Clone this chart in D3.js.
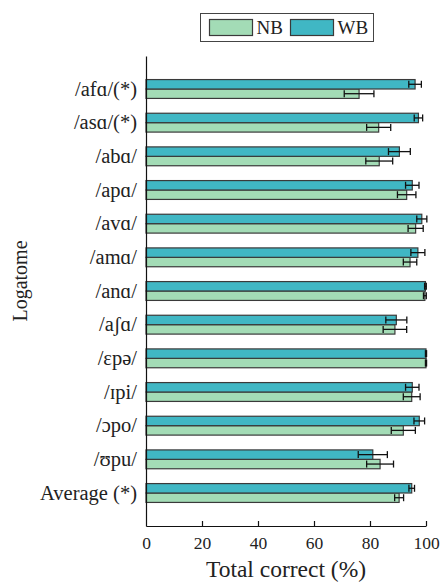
<!DOCTYPE html>
<html>
<head>
<meta charset="utf-8">
<script src="https://cdn.jsdelivr.net/npm/d3@7"></script>
<style>
  body { margin: 0; background: #fff; }
  svg text { font-family: "Liberation Serif", "Times New Roman", Times, "DejaVu Serif", serif !important; fill: #222; }
</style>
</head>
<body>
<script>
/* Logatome categories, top to bottom */
var categories = ["/afɑ/(*)", "/asɑ/(*)", "/abɑ/", "/apɑ/", "/avɑ/", "/amɑ/",
  "/anɑ/", "/aʃɑ/", "/ɛpə/", "/ɪpi/", "/ɔpo/", "/ʊpu/", "Average (*)"];

/* total correct (%) and error half-widths per series */
var nbValues = [76.1, 83.1, 83.3, 93.1, 96.3, 94.3, 99.6, 88.9, 100, 94.9, 91.9, 83.6, 90.4];
var nbErrors = [5.3, 4.3, 4.8, 3.3, 2.7, 2.4, 0.5, 4.2, 0.2, 3.0, 4.3, 4.8, 1.6];
var wbValues = [96.1, 97.3, 90.5, 95.1, 98.5, 97.1, 99.8, 89.4, 100, 95.1, 97.6, 81.0, 94.9];
var wbErrors = [2.25, 1.5, 3.9, 2.4, 1.8, 2.5, 0.3, 3.75, 0.2, 2.4, 1.9, 5.2, 1.0];

var xTicks = [0, 20, 40, 60, 80, 100];
var seriesNames = ["NB", "WB"];
var colours = { NB: "#a3dcb6", WB: "#40b7c4" };

var width = 443, height = 586;
var margin = { top: 56, right: 17, bottom: 60, left: 146 };

var svg = d3.select("body").append("svg")
    .attr("width", width)
    .attr("height", height);

var x = d3.scaleLinear()
    .domain([0, 100])
    .range([margin.left, 426]);

var y = d3.scaleBand()
    .domain(categories)
    .range([margin.top, height - margin.bottom])
    .paddingInner(0.44)
    .paddingOuter(0.7);

/* WB on top half of each group, NB on bottom half */
var sub = d3.scaleBand()
    .domain(["WB", "NB"])
    .range([0, y.bandwidth()]);

var rows = [];
categories.forEach(function(c, i) {
  rows.push({ cat: c, series: "NB", value: nbValues[i], err: nbErrors[i] });
  rows.push({ cat: c, series: "WB", value: wbValues[i], err: wbErrors[i] });
});

svg.selectAll(".bar")
    .data(rows)
  .enter().append("rect")
    .attr("class", "bar")
    .attr("x", x(0))
    .attr("y", function(d) { return y(d.cat) + sub(d.series); })
    .attr("width", function(d) { return x(d.value) - x(0); })
    .attr("height", sub.bandwidth())
    .attr("fill", function(d) { return colours[d.series]; })
    .attr("stroke", "#3a3a3a")
    .attr("stroke-width", 1.2);

/* error bars */
var cap = 3.5;
var eb = svg.selectAll(".err")
    .data(rows)
  .enter().append("g")
    .attr("class", "err")
    .attr("stroke", "#111")
    .attr("stroke-width", 1.3);

function cy(d) { return y(d.cat) + sub(d.series) + sub.bandwidth() / 2; }
function lo(d) { return x(d.value - d.err); }
function hi(d) { return x(Math.min(d.value + d.err, 100.3)); }

eb.append("line")
    .attr("x1", lo).attr("x2", hi)
    .attr("y1", cy).attr("y2", cy);
eb.append("line")
    .attr("x1", lo).attr("x2", lo)
    .attr("y1", function(d) { return cy(d) - cap; })
    .attr("y2", function(d) { return cy(d) + cap; });
eb.append("line")
    .attr("x1", hi).attr("x2", hi)
    .attr("y1", function(d) { return cy(d) - cap; })
    .attr("y2", function(d) { return cy(d) + cap; });

/* x axis, ticks pointing inward */
var xAxis = svg.append("g")
    .attr("transform", "translate(0," + (height - margin.bottom) + ")")
    .call(d3.axisBottom(x).tickValues(xTicks).tickSizeInner(-5).tickSizeOuter(0).tickPadding(11));
xAxis.select(".domain").attr("stroke", "#111").attr("stroke-width", 1.2);
xAxis.selectAll(".tick line").attr("stroke", "#111").attr("stroke-width", 1.2)
    .filter(function(d) { return d === 0; }).remove();
xAxis.selectAll(".tick text")
    .style("font-size", "17.5px")
    .attr("fill", "#222");

/* y axis: line only, category labels */
var yAxis = svg.append("g")
    .attr("transform", "translate(" + margin.left + ",0)")
    .call(d3.axisLeft(y).tickSize(0).tickPadding(9));
yAxis.select(".domain").attr("stroke", "#111").attr("stroke-width", 1.2);
yAxis.selectAll(".tick text")
    .style("font-size", "20.5px")
    .attr("fill", "#222");

/* axis titles */
svg.append("text")
    .attr("x", (x(0) + x(100)) / 2)
    .attr("y", 577)
    .attr("text-anchor", "middle")
    .style("font-size", "23.5px")
    .text("Total correct (%)");

svg.append("text")
    .attr("transform", "translate(27,281) rotate(-90)")
    .attr("text-anchor", "middle")
    .style("font-size", "20px")
    .text("Logatome");

/* legend */
var legend = svg.append("g");
legend.append("rect")
    .attr("x", 200.5).attr("y", 13.5)
    .attr("width", 173).attr("height", 28)
    .attr("fill", "#fff")
    .attr("stroke", "#444")
    .attr("stroke-width", 1);

var items = legend.selectAll(".item")
    .data(seriesNames)
  .enter().append("g")
    .attr("transform", function(d, i) { return "translate(" + (209.5 + i * 81) + ",19.5)"; });
items.append("rect")
    .attr("width", 43).attr("height", 16)
    .attr("fill", function(d) { return colours[d]; })
    .attr("stroke", "#3a3a3a")
    .attr("stroke-width", 1.2);
items.append("text")
    .attr("x", 47).attr("y", 14.5)
    .style("font-size", "19px")
    .text(function(d) { return d; });
</script>
</body>
</html>
